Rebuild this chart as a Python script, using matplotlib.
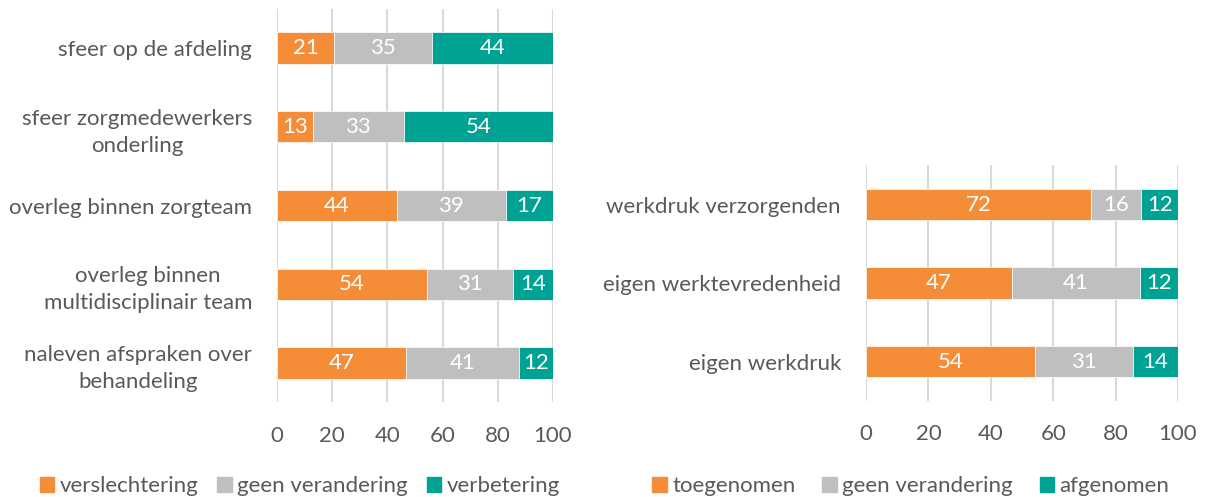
import numpy as np
import matplotlib
matplotlib.use("Agg")
import matplotlib.pyplot as plt
from matplotlib.patches import Patch

plt.rcParams['font.family'] = ['Lato', 'DejaVu Sans']

# left chart: werkklimaat
left_cats = ["sfeer op de afdeling", "sfeer zorgmedewerkers\nonderling", "overleg binnen zorgteam",
             "overleg binnen\nmultidisciplinair team", "naleven afspraken over\nbehandeling"]
left_worse = [20.6, 13.0, 43.5, 54.2, 46.7]
left_same = [35.4, 32.9, 39.3, 31.4, 41.0]
left_better = [44.0, 54.1, 17.2, 14.4, 12.3]
left_names = ["verslechtering", "geen verandering", "verbetering"]

# right chart: werkdruk
right_cats = ["werkdruk verzorgenden", "eigen werktevredenheid", "eigen werkdruk"]
right_up = [72.1, 46.8, 54.2]
right_same = [16.1, 41.0, 31.4]
right_down = [11.8, 12.2, 14.4]
right_names = ["toegenomen", "geen verandering", "afgenomen"]

colors = ["#F58C38", "#BFBFBF", "#00A293"]
text_col = "#595959"
W, H = 1206, 497

fig = plt.figure(figsize=(W / 100, H / 100), dpi=100)


def px_axes(x0, x1, y0, y1):
    return fig.add_axes([x0 / W, 1 - y1 / H, (x1 - x0) / W, (y1 - y0) / H])


def draw(ax, cats, series, names, legend_x, colsp):
    y = np.arange(len(cats))
    left = np.zeros(len(cats))
    for vals, c in zip(series, colors):
        bars = ax.barh(y, vals, left=left, height=0.4, color=c, edgecolor='white', linewidth=0.5, zorder=3)
        ax.bar_label(bars, labels=[f"{v:.0f}" for v in vals], label_type='center',
                     color='white', fontsize=16)
        left = left + np.array(vals)
    ax.set_ylim(len(cats) - 0.5, -0.5)
    ax.set_xlim(0, 100)
    ax.set_xticks(range(0, 101, 20))
    ax.set_yticks(y)
    ax.set_yticklabels(cats, fontsize=16, color=text_col)
    for t in ax.get_yticklabels():
        t.set_multialignment('center')
        t.set_linespacing(1.45)
    ax.tick_params(axis='x', labelsize=16, labelcolor=text_col, length=0, pad=17)
    ax.tick_params(axis='y', length=0, pad=18)
    ax.grid(axis='x', color='#D9D9D9', linewidth=1.5, zorder=0)
    for s in ax.spines.values():
        s.set_visible(False)
    handles = [Patch(color=c) for c in colors]
    fig.legend(handles, names, loc='center', bbox_to_anchor=(legend_x / W, 1 - 486 / H),
               ncol=3, frameon=False, fontsize=16, labelcolor=text_col,
               handlelength=0.65, handleheight=0.65, handletextpad=0.25, columnspacing=colsp)


ax1 = px_axes(277, 553, 8.6, 402.4)
draw(ax1, left_cats, [left_worse, left_same, left_better], left_names, 300, 0.85)

ax2 = px_axes(866, 1178, 165.3, 400.8)
draw(ax2, right_cats, [right_up, right_same, right_down], right_names, 911, 1.2)

fig.savefig("out.png", dpi=100)
